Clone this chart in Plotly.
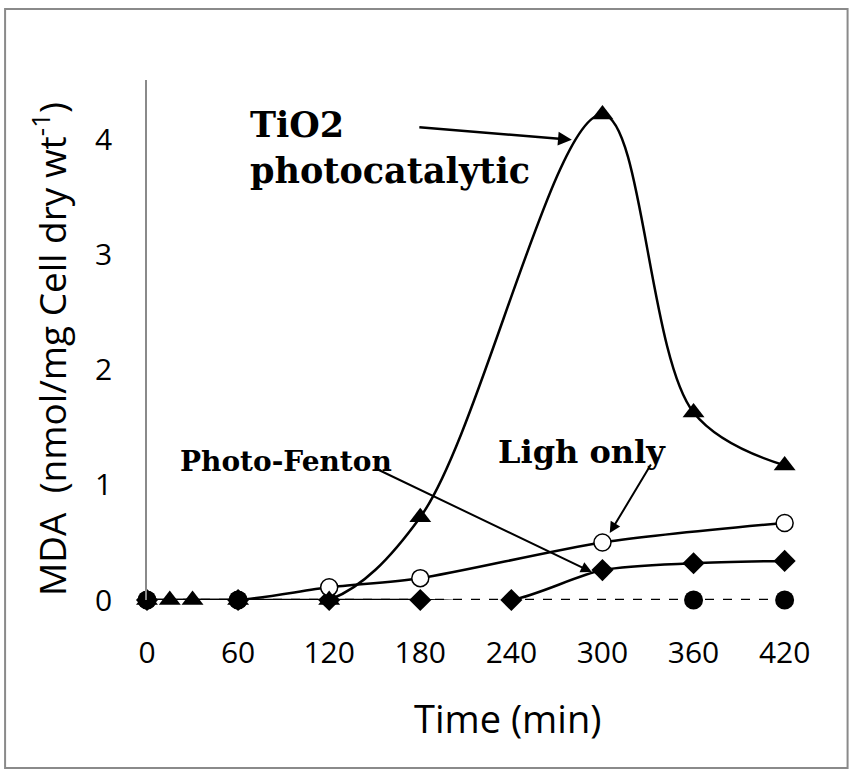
import plotly.graph_objects as go

# Sampling times (min) and MDA content (nmol/mg cell dry wt^-1) for each treatment
tio2_time = [0, 15, 30, 60, 120, 180, 300, 360, 420]
tio2_mda = [0, 0, 0, 0, 0, 0.72, 4.22, 1.63, 1.17]

light_time = [0, 60, 120, 180, 300, 420]
light_mda = [0, 0, 0.11, 0.19, 0.50, 0.67]

fenton_time = [0, 60, 120, 180, 240, 300, 360, 420]
fenton_mda = [0, 0, 0, 0, 0, 0.26, 0.32, 0.34]

control_time = [0, 60, 360, 420]
control_mda = [0, 0, 0, 0]

x_ticks = [0, 60, 120, 180, 240, 300, 360, 420]
y_ticks = [0, 1, 2, 3, 4]

SANS = "Open Sans, Noto Sans, Arial, sans-serif"
SERIF = "DejaVu Serif, Liberation Serif, serif"

# plot-area geometry in pixels (used to place the free-standing titles)
PL, PW, PB, PH = 147, 668.4, 600, 520


def px_to_paper(px, py):
    return (px - PL) / PW, (PB - py) / PH


fig = go.Figure()

fig.add_trace(go.Scatter(
    x=fenton_time, y=fenton_mda, name="Photo-Fenton", mode="lines+markers",
    line=dict(color="black", width=2.5, shape="spline", smoothing=0.8),
    marker=dict(symbol="diamond", size=17, color="black"),
    cliponaxis=False,
))
fig.add_trace(go.Scatter(
    x=light_time, y=light_mda, name="Light only", mode="lines+markers",
    line=dict(color="black", width=2.5, shape="spline", smoothing=0.8),
    marker=dict(symbol="circle", size=17, color="white",
                line=dict(color="black", width=1.5)),
    cliponaxis=False,
))
fig.add_trace(go.Scatter(
    x=tio2_time, y=tio2_mda, name="TiO2 photocatalytic", mode="lines+markers",
    line=dict(color="black", width=2.5, shape="spline", smoothing=1.0),
    marker=dict(symbol="triangle-up", size=19, color="black"),
    cliponaxis=False,
))
fig.add_trace(go.Scatter(
    x=control_time, y=control_mda, name="Control", mode="lines+markers",
    line=dict(color="black", width=2.5, dash="dash"),
    marker=dict(symbol="circle", size=19, color="black"),
    cliponaxis=False,
))

yt_x, yt_y = px_to_paper(50, 349)
xt_x, xt_y = px_to_paper(508, 718)

annotations = [
    # series labels with pointer arrows
    dict(x=66.5, y=3.93, xref="x", yref="y", text="<b>TiO2<br>photocatalytic</b>",
         showarrow=False, xanchor="left", yanchor="middle", align="left",
         font=dict(family=SERIF, size=35, color="black")),
    dict(x=279.8, y=4.0, ax=178.4, ay=4.11, xref="x", yref="y", axref="x", ayref="y",
         text="", showarrow=True, arrowhead=2, arrowsize=1.1, arrowwidth=2.5,
         arrowcolor="black"),
    dict(x=91.5, y=1.2, xref="x", yref="y", text="<b>Photo-Fenton</b>",
         showarrow=False, xanchor="center", yanchor="middle",
         font=dict(family=SERIF, size=28, color="black")),
    dict(x=293, y=0.243, ax=150, ay=1.147, xref="x", yref="y", axref="x", ayref="y",
         text="", showarrow=True, arrowhead=2, arrowsize=1.1, arrowwidth=2,
         arrowcolor="black"),
    dict(x=286.4, y=1.29, xref="x", yref="y", text="<b>Ligh only</b>",
         showarrow=False, xanchor="center", yanchor="middle",
         font=dict(family=SERIF, size=32, color="black")),
    dict(x=304.8, y=0.582, ax=332.5, ay=1.19, xref="x", yref="y", axref="x", ayref="y",
         text="", showarrow=True, arrowhead=2, arrowsize=1.1, arrowwidth=2,
         arrowcolor="black"),
    # axis titles
    dict(x=yt_x, y=yt_y, xref="paper", yref="paper",
         text="MDA\u00a0 (nmol/mg Cell dry wt<sup>-1</sup>)", textangle=-90,
         showarrow=False, xanchor="center", yanchor="middle",
         font=dict(family=SANS, size=37, color="black")),
    dict(x=xt_x, y=xt_y, xref="paper", yref="paper",
         text="Time (min)", showarrow=False, xanchor="center", yanchor="middle",
         font=dict(family=SANS, size=38, color="black")),
]

bx0, by0 = px_to_paper(5, 768)
bx1, by1 = px_to_paper(848, 9)

fig.update_layout(
    width=852, height=771,
    margin=dict(l=147, r=37, t=80, b=171),
    paper_bgcolor="white", plot_bgcolor="white",
    showlegend=False,
    annotations=annotations,
    shapes=[dict(type="rect", xref="paper", yref="paper",
                 x0=bx0, x1=bx1, y0=by0, y1=by1,
                 line=dict(color="#8a8a8a", width=2), fillcolor="rgba(0,0,0,0)",
                 layer="below")],
)

fig.update_xaxes(
    range=[0, 440], tickvals=x_ticks, ticktext=[str(v) for v in x_ticks],
    showgrid=False, zeroline=False, showline=False,
    ticks="outside", ticklen=26, tickcolor="rgba(0,0,0,0)",
    tickfont=dict(family=SANS, size=30, color="black"),
)
fig.update_yaxes(
    range=[0, 4.52], tickvals=y_ticks, ticktext=[str(v) for v in y_ticks],
    showgrid=False, zeroline=False, showline=True, linecolor="#8a8a8a", linewidth=1.5,
    ticks="outside", ticklen=27, tickcolor="rgba(0,0,0,0)",
    tickfont=dict(family=SANS, size=30, color="black"),
)

fig.write_html("out.html")
